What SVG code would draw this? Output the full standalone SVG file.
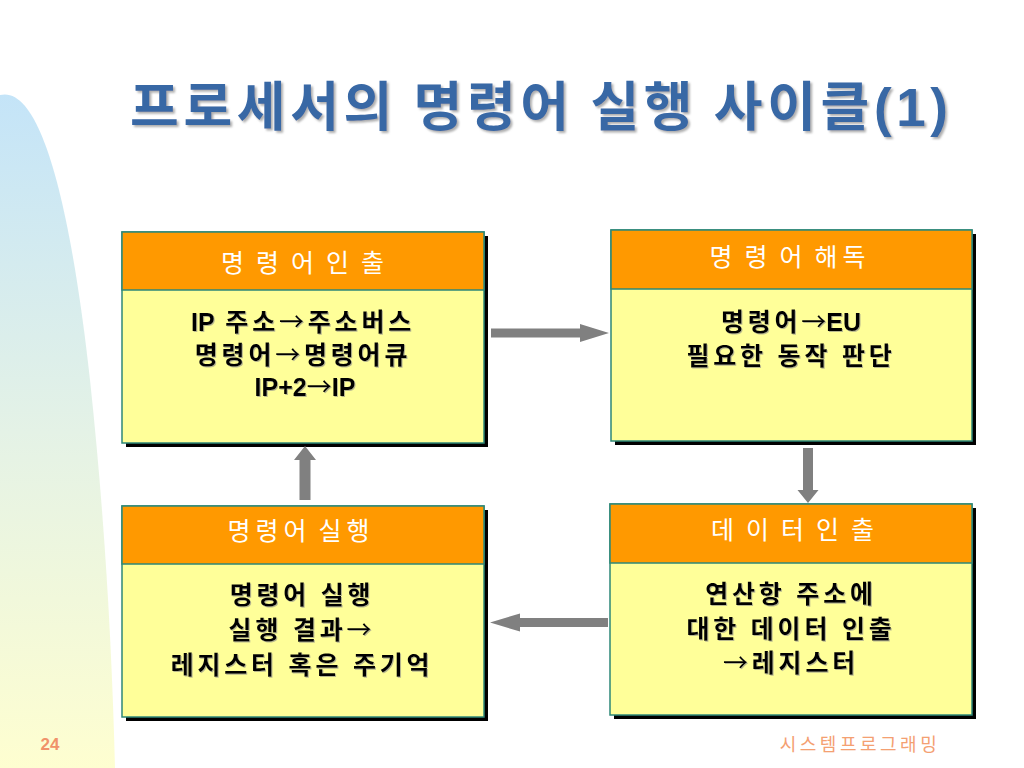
<svg xmlns="http://www.w3.org/2000/svg" width="1024" height="768" viewBox="0 0 1024 768">
<defs>
<linearGradient id="band" x1="0" y1="0" x2="0" y2="1">
<stop offset="0" stop-color="#c4e4f8"/>
<stop offset="0.5" stop-color="#e4f2e6"/>
<stop offset="1" stop-color="#fefed0"/>
</linearGradient>
<filter id="tsh" x="-5%" y="-20%" width="110%" height="140%">
<feDropShadow dx="2" dy="2" stdDeviation="0.8" flood-color="#9a9a9a" flood-opacity="0.8"/>
</filter>
<filter id="bsh" x="-5%" y="-20%" width="110%" height="140%">
<feDropShadow dx="1" dy="1" stdDeviation="0.5" flood-color="#888" flood-opacity="0.6"/>
</filter>
</defs>
<style>
.shadow{fill:#000}
.head{fill:#ff9900;stroke:#2e8878;stroke-width:1.5}
.body{fill:#ffff99;stroke:#2e8878;stroke-width:1.5}
.ht{font-family:"Liberation Sans","Noto Sans CJK KR",sans-serif;font-size:25px;fill:#fff;text-anchor:middle;letter-spacing:5px;word-spacing:-5px}
.bt{font-family:"Liberation Sans","Noto Sans CJK KR",sans-serif;font-size:25px;font-weight:bold;fill:#000;text-anchor:middle;letter-spacing:3.8px}
.arr{font-family:"Noto Sans CJK KR",sans-serif;font-weight:normal}
.lat{letter-spacing:0}
.conn{fill:#808080}
</style>
<rect width="1024" height="768" fill="#fff"/>
<path d="M0,95 C40,85 70,200 90,380 C105,520 112,650 115,768 L0,768 Z" fill="url(#band)"/>
<text x="130" y="126" textLength="818" lengthAdjust="spacing" font-family="'Noto Sans CJK KR',sans-serif" font-size="53" font-weight="bold" fill="#3767a5" filter="url(#tsh)">프로세서의 명령어 실행 사이클<tspan font-family="'Liberation Sans',sans-serif">(1)</tspan></text>

<g id="node-fetch">
<rect class="shadow" x="126" y="236" width="362" height="211"/>
<rect class="body" x="122" y="232" width="362" height="211"/>
<rect class="head" x="122" y="232" width="362" height="58"/>
<text class="ht" x="305" y="272">명 령 어 인 출</text>
<g filter="url(#bsh)">
<text class="bt" x="303" y="331"><tspan class="lat">IP</tspan> 주소<tspan class="arr">→</tspan>주소버스</text>
<text class="bt" x="303" y="364">명령어<tspan class="arr">→</tspan>명령어큐</text>
<text class="bt" x="305" y="396"><tspan class="lat">IP+2</tspan><tspan class="arr lat">→</tspan><tspan class="lat">IP</tspan></text>
</g>
</g>

<g id="node-decode">
<rect class="shadow" x="615" y="234" width="361" height="211"/>
<rect class="body" x="611" y="230" width="361" height="211"/>
<rect class="head" x="611" y="230" width="361" height="59"/>
<text class="ht" x="790" y="266">명 령 어 해독</text>
<g filter="url(#bsh)">
<text class="bt" x="791" y="331">명령어<tspan class="arr lat">→</tspan><tspan class="lat">EU</tspan></text>
<text class="bt" x="791" y="365">필요한 동작 판단</text>
</g>
</g>

<g id="node-execute">
<rect class="shadow" x="126" y="510" width="362" height="211"/>
<rect class="body" x="122" y="506" width="362" height="211"/>
<rect class="head" x="122" y="506" width="362" height="58"/>
<text class="ht" x="301" y="540">명령어 실행</text>
<g filter="url(#bsh)">
<text class="bt" x="302" y="604">명령어 실행</text>
<text class="bt" x="302" y="639">실행 결과<tspan class="arr">→</tspan></text>
<text class="bt" x="302" y="674">레지스터 혹은 주기억</text>
</g>
</g>

<g id="node-operand">
<rect class="shadow" x="614" y="508" width="362" height="211"/>
<rect class="body" x="610" y="504" width="362" height="211"/>
<rect class="head" x="610" y="504" width="362" height="59"/>
<text class="ht" x="795" y="539">데 이 터 인 출</text>
<g filter="url(#bsh)">
<text class="bt" x="791" y="603">연산항 주소에</text>
<text class="bt" x="791" y="638">대한 데이터 인출</text>
<text class="bt" x="791" y="672"><tspan class="arr">→</tspan>레지스터</text>
</g>
</g>

<g id="connectors">
<polygon class="conn" points="491,328.5 580,328.5 580,324 609,333 580,342 580,337.5 491,337.5"/>
<polygon class="conn" points="803,448 813,448 813,490 818.5,490 808,503 797.5,490 803,490"/>
<polygon class="conn" points="608,618 520,618 520,613.5 490,622.5 520,631.5 520,627 608,627"/>
<polygon class="conn" points="299.5,500 310.5,500 310.5,460 316,460 305,446 294,460 299.5,460"/>
</g>

<text x="50" y="750" font-family="'Liberation Sans',sans-serif" font-size="17" font-weight="bold" fill="#f0926a" text-anchor="middle">24</text>
<text x="860" y="751" font-family="'Noto Sans CJK KR',sans-serif" font-size="18" fill="#f4a072" text-anchor="middle" letter-spacing="3.5">시스템프로그래밍</text>
</svg>
